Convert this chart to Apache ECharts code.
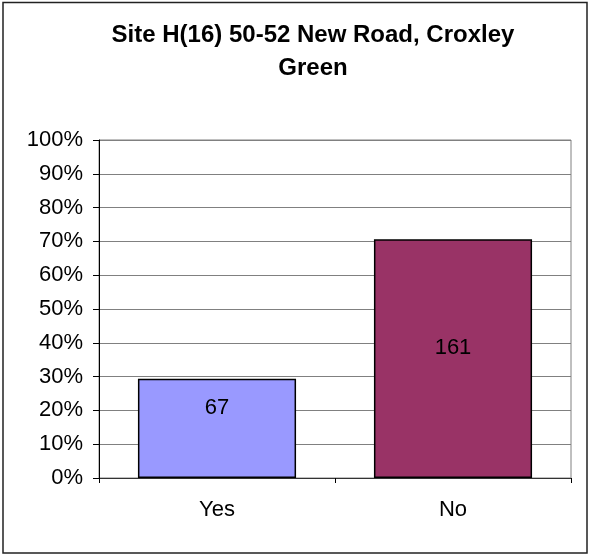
<!DOCTYPE html>
<html>
<head>
<meta charset="utf-8">
<script src="https://cdn.jsdelivr.net/npm/echarts@6/dist/echarts.min.js"></script>
<style>
  html, body { margin: 0; padding: 0; background: #fff; }
  #chart { width: 589px; height: 556px; }
</style>
</head>
<body>
<div id="chart"></div>
<script>
// answers and counts
const categories = ['Yes', 'No'];
const counts = [67, 161];
const barColors = ['#9999FF', '#993366'];
const titleText = 'Site H(16) 50-52 New Road, Croxley\nGreen';

const total = counts.reduce((a, b) => a + b, 0);
const percents = counts.map(c => c / total * 100);

// where the count sits inside each bar (x, y of the bar box)
const labelSpots = [['50%', '29%'], ['50%', '45.5%']];

const FONT = 'Liberation Sans, Arial, sans-serif';

const chart = echarts.init(document.getElementById('chart'));

const option = {
  backgroundColor: '#fff',
  animation: false,
  title: {
    text: titleText,
    left: 308,
    top: 14,
    textAlign: 'center',
    textStyle: {
      fontFamily: FONT,
      fontSize: 24,
      fontWeight: 'bold',
      color: '#000',
      lineHeight: 33
    }
  },
  graphic: [{
    type: 'rect',
    shape: { x: 3, y: 2.5, width: 584, height: 550.5 },
    style: { fill: null, stroke: '#222', lineWidth: 1.5 },
    silent: true
  }],
  grid: {
    left: 99,
    right: 18,
    top: 140,
    bottom: 78,
    show: true,
    borderColor: '#808080',
    borderWidth: 1,
    backgroundColor: 'transparent'
  },
  xAxis: {
    type: 'category',
    data: categories,
    axisLine: { lineStyle: { color: '#333', width: 1 } },
    axisTick: { show: true, length: 5, lineStyle: { color: '#000' } },
    axisLabel: {
      margin: 21,
      fontFamily: FONT,
      fontSize: 22,
      color: '#000'
    },
    splitLine: { show: false }
  },
  yAxis: {
    type: 'value',
    min: 0,
    max: 100,
    interval: 10,
    axisLine: { show: true, lineStyle: { color: '#000', width: 1 } },
    axisTick: { show: true, length: 6, lineStyle: { color: '#000' } },
    axisLabel: {
      margin: 16,
      formatter: '{value}%',
      fontFamily: FONT,
      fontSize: 22,
      color: '#000'
    },
    splitLine: { show: true, lineStyle: { color: '#808080', width: 1 } }
  },
  series: [{
    type: 'bar',
    barCategoryGap: '33%',
    data: percents.map((p, i) => ({
      value: p,
      itemStyle: { color: barColors[i], borderColor: '#000', borderWidth: 1.5 },
      label: {
        show: true,
        position: labelSpots[i],
        align: 'center',
        verticalAlign: 'middle',
        formatter: String(counts[i]),
        fontFamily: FONT,
        fontSize: 22,
        color: '#000'
      }
    }))
  }]
};

chart.setOption(option);
</script>
</body>
</html>
